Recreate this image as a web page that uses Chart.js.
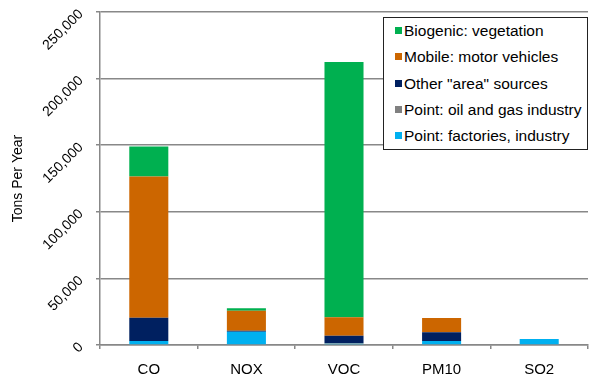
<!DOCTYPE html>
<html>
<head>
<meta charset="utf-8">
<script src="https://cdn.jsdelivr.net/npm/chart.js@4/dist/chart.umd.min.js"></script>
<style>
  html, body { margin: 0; padding: 0; background: #fff; }
  #wrap { position: relative; width: 589px; height: 378px; }
  #legend {
    position: absolute; left: 383px; top: 17px; width: 205px; height: 133px;
    border: 1px solid #222; background: #fff;
    font-family: "Liberation Sans", Arial, sans-serif; font-size: 15.5px; color: #000;
    box-sizing: border-box; padding-top: 4px;
  }
  #legend .item { height: 26.3px; line-height: 18px; padding-left: 11px; white-space: nowrap; }
  #legend .sw { display: inline-block; width: 7px; height: 7px; margin-right: 2px; vertical-align: 2px; }
</style>
</head>
<body>
<div id="wrap">
  <canvas id="chart" width="589" height="378"></canvas>
  <div id="legend"></div>
</div>
<script>
// Emissions par polluant (tonnes / an)
const categories = ['CO', 'NOX', 'VOC', 'PM10', 'SO2'];

const factories = [3000, 10000, 1000, 3000, 4500];
const oilGas    = [0, 0, 500, 0, 0];
const areaSrc   = [17500, 700, 5500, 6500, 0];
const mobile    = [106000, 15000, 13800, 10800, 0];
const biogenic  = [22500, 1800, 191700, 0, 0];

const yTicks = [0, 50000, 100000, 150000, 200000, 250000];

const series = [
    { label: 'Point: factories, industry', data: factories, color: '#00B0F0' },
    { label: 'Point: oil and gas industry', data: oilGas, color: '#808080' },
    { label: 'Other "area" sources', data: areaSrc, color: '#002060' },
    { label: 'Mobile: motor vehicles', data: mobile, color: '#CC6600' },
    { label: 'Biogenic: vegetation', data: biogenic, color: '#00B050' }
];

const family = '"Liberation Sans", Arial, sans-serif';

const chart = new Chart(document.getElementById('chart').getContext('2d'), {
    type: 'bar',
    data: {
        labels: categories,
        datasets: series.map(s => ({
            label: s.label,
            data: s.data,
            backgroundColor: s.color,
            borderWidth: 0,
            categoryPercentage: 1,
            barPercentage: 0.4
        }))
    },
    options: {
        responsive: false,
        animation: false,
        layout: { padding: { top: 12, right: 1, left: 0, bottom: 0 } },
        plugins: {
            legend: { display: false },
            tooltip: { enabled: false }
        },
        scales: {
            x: {
                stacked: true,
                grid: { display: true, drawOnChartArea: false, drawTicks: true, tickLength: 4, color: '#888', lineWidth: 1.5, offset: true },
                border: { color: '#888', width: 1.5 },
                ticks: { color: '#000', font: { family: family, size: 15 }, padding: 12 },
                afterFit: scale => {
                    scale.height = 33;
                    scale.paddingLeft = 0;
                    scale.paddingRight = 0;
                }
            },
            y: {
                stacked: true,
                min: 0,
                max: 250000,
                afterBuildTicks: scale => { scale.ticks = yTicks.map(v => ({ value: v })); },
                grid: { color: '#888', lineWidth: 1.5, tickLength: 4 },
                border: { color: '#888', width: 1.5 },
                ticks: {
                    color: '#000',
                    font: { family: family, size: 14 },
                    minRotation: 45,
                    maxRotation: 45,
                    padding: 15,
                    callback: v => v.toLocaleString('en-US')
                },
                title: {
                    display: true,
                    text: 'Tons Per Year',
                    color: '#000',
                    font: { family: family, size: 14 },
                    padding: { top: 10, bottom: 0 }
                },
                afterFit: scale => {
                    scale.width = 100;
                    scale.paddingTop = 0;
                    scale.paddingBottom = 0;
                }
            }
        }
    }
});

// Légende HTML (ordre inversé comme l'original)
const legendEl = document.getElementById('legend');
legendEl.innerHTML = series.slice().reverse().map(s =>
    `<div class="item"><span class="sw" style="background:${s.color}"></span>${s.label.replace(/"/g, '&quot;')}</div>`
).join('');
</script>
</body>
</html>
